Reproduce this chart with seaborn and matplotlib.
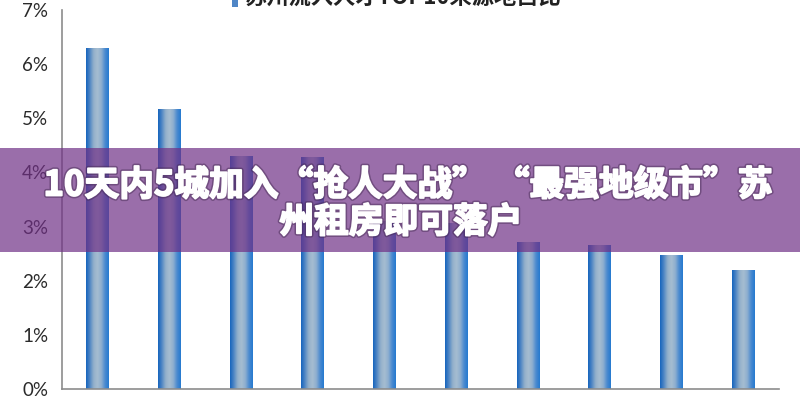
import numpy as np
import pandas as pd
import matplotlib
matplotlib.use("Agg")
import matplotlib.pyplot as plt
import seaborn as sns
from matplotlib.colors import LinearSegmentedColormap
from matplotlib.patches import Rectangle
import matplotlib.patheffects as pe

# ---- data ----
categories = ["来源地1", "来源地2", "来源地3", "来源地4", "来源地5",
              "来源地6", "来源地7", "来源地8", "来源地9", "来源地10"]
values = [6.29, 5.17, 4.30, 4.28, 3.10, 3.07, 2.72, 2.66, 2.48, 2.20]
ytick_vals = [0, 1, 2, 3, 4, 5, 6, 7]
ytick_labels = ["0%", "1%", "2%", "3%", "4%", "5%", "6%", "7%"]
legend_label = "苏州流入人才TOP10来源地占比"
headline_1 = "10天内5城加入“抢人大战” “最强地级市”苏"
headline_2 = "州租房即可落户"

sns.set_style("white")
plt.rcParams["font.family"] = ["Lato", "Noto Sans CJK SC", "DejaVu Sans"]

fig = plt.figure(figsize=(8, 4), dpi=100)
ax = fig.add_axes([62 / 800, 11 / 400, (779 - 62) / 800, (389 - 10) / 400])

df = pd.DataFrame({"source": categories, "share": values})
sns.barplot(data=df, x="source", y="share", width=0.32, color="#2a72c0",
            saturation=1, ax=ax, errorbar=None)

cmap = LinearSegmentedColormap.from_list(
    "cyl", ["#1463bd", "#4f86c4", "#93b0cb", "#a6bdd1", "#8fafcf", "#4a8ad0", "#2479cf"])
grad = np.linspace(0, 1, 256).reshape(1, -1)
for p in ax.patches:
    x0, w, h = p.get_x(), p.get_width(), p.get_height()
    im = ax.imshow(grad, cmap=cmap, aspect="auto", extent=(x0, x0 + w, 0, h),
                   zorder=p.get_zorder() + 0.1, interpolation="bicubic")
    im.set_clip_path(p)

ax.set_xlim(-0.5, len(categories) - 0.5)
ax.set_ylim(0, 7)
ax.set_xlabel("")
ax.set_ylabel("")
ax.set_xticks(np.arange(-0.5, len(categories), 1))
ax.set_xticklabels([])
ax.set_yticks(ytick_vals)
ax.set_yticklabels(ytick_labels)
ax.tick_params(axis="x", length=4.5, width=1.2, color="#8c8c8c", direction="out")
ax.tick_params(axis="y", length=4, width=1.2, color="#8c8c8c", direction="out",
               labelsize=13.5, labelcolor="#2a2a2a", pad=6)
for s in ["top", "right"]:
    ax.spines[s].set_visible(False)
for s in ["left", "bottom"]:
    ax.spines[s].set_color("#8c8c8c")
    ax.spines[s].set_linewidth(1.2)

# partially clipped legend at the top
fig.add_artist(Rectangle((232 / 800, 1 - 7 / 400), 6 / 800, 10 / 400,
                         transform=fig.transFigure, facecolor="#4f86c6",
                         edgecolor="none", zorder=4))
fig.text(245 / 800, 1 - 9 / 400, legend_label, va="bottom", ha="left",
         fontsize=16, color="#222222", family=["Noto Sans CJK SC"],
         fontweight="bold", zorder=4)

# purple banner
fig.add_artist(Rectangle((0, 1 - 252 / 400), 1, 104 / 400,
                         transform=fig.transFigure, facecolor="#703086",
                         edgecolor="none", alpha=0.7, zorder=5))
effects = [pe.withStroke(linewidth=3.5, foreground=(0.25, 0.15, 0.3, 0.45)),
           pe.withStroke(linewidth=1.3, foreground="white")]
fig.text(408 / 800, 1 - 185 / 400, headline_1, ha="center", va="center",
         fontsize=25, fontweight="heavy", color="white",
         family=["Noto Sans CJK SC", "DejaVu Sans"], zorder=6, path_effects=effects)
fig.text(401 / 800, 1 - 222 / 400, headline_2, ha="center", va="center",
         fontsize=25, fontweight="heavy", color="white",
         family=["Noto Sans CJK SC", "DejaVu Sans"], zorder=6, path_effects=effects)

fig.savefig("out.png", dpi=100)
